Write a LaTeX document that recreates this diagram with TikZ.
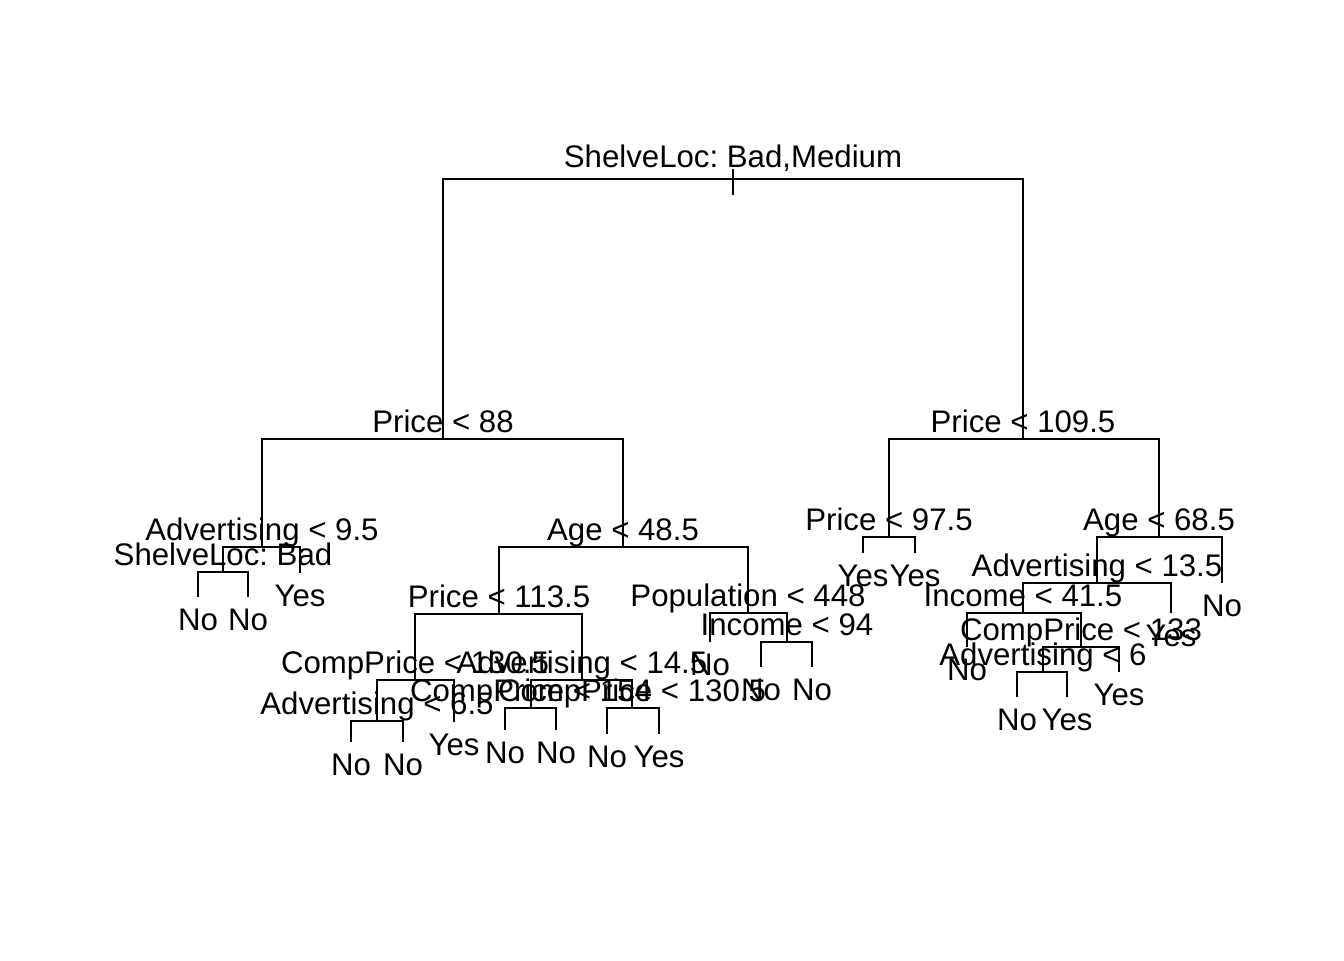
\documentclass[tikz,border=0pt]{standalone}
\usepackage{fontspec}
\setmainfont{Liberation Sans}
\frenchspacing
\begin{document}
\begin{tikzpicture}[x=0.375pt,y=-0.375pt,
  edge/.style={line width=0.75pt,line cap=butt},
  lbl/.style={anchor=base,inner sep=0pt,font=\fontsize{11.7}{14}\selectfont}]
\useasboundingbox[fill=white] (0,0) rectangle (1344,960);
% tree nodes (x, y of horizontal bar / leaf end)
\coordinate (root) at (733,179);
\coordinate (rtop) at (733,169);
\coordinate (rbot) at (733,195);
\coordinate (n2) at (443,439);
\coordinate (n3) at (1023,439);
\coordinate (n4) at (262,547);
\coordinate (n5) at (623,547);
\coordinate (n8) at (223,572);
\coordinate (l16) at (198,597);
\coordinate (l17) at (248,597);
\coordinate (l9) at (300,573);
\coordinate (n10) at (499,614);
\coordinate (n11) at (748,613);
\coordinate (n20) at (415,680);
\coordinate (n21) at (582,680);
\coordinate (n40) at (377,721);
\coordinate (l80) at (351,742);
\coordinate (l81) at (403,742);
\coordinate (l41) at (454,722);
\coordinate (n42) at (531,708);
\coordinate (l84) at (505,730);
\coordinate (l85) at (556,730);
\coordinate (n43) at (632,708);
\coordinate (l86) at (607,734);
\coordinate (l87) at (659,734);
\coordinate (l22) at (710,642);
\coordinate (n23) at (787,642);
\coordinate (l46) at (761,667);
\coordinate (l47) at (812,667);
\coordinate (n6) at (889,537);
\coordinate (l12) at (863,553);
\coordinate (l13) at (915,553);
\coordinate (n7) at (1159,537);
\coordinate (n14) at (1097,583);
\coordinate (l15) at (1222,583);
\coordinate (n28) at (1023,613);
\coordinate (l29) at (1171,613);
\coordinate (l56) at (967,647);
\coordinate (n57) at (1081,647);
\coordinate (n114) at (1043,672);
\coordinate (l228) at (1017,697);
\coordinate (l229) at (1067,697);
\coordinate (l115) at (1119,672);
% connectors
\draw[edge] (rtop) -- (rbot);
\draw[edge] (root) -| (n2);
\draw[edge] (root) -| (n3);
\draw[edge] (n2) -| (n4);
\draw[edge] (n2) -| (n5);
\draw[edge] (n4) -| (n8);
\draw[edge] (n4) -| (l9);
\draw[edge] (n8) -| (l16);
\draw[edge] (n8) -| (l17);
\draw[edge] (n5) -| (n10);
\draw[edge] (n5) -| (n11);
\draw[edge] (n10) -| (n20);
\draw[edge] (n10) -| (n21);
\draw[edge] (n20) -| (n40);
\draw[edge] (n20) -| (l41);
\draw[edge] (n40) -| (l80);
\draw[edge] (n40) -| (l81);
\draw[edge] (n21) -| (n42);
\draw[edge] (n21) -| (n43);
\draw[edge] (n42) -| (l84);
\draw[edge] (n42) -| (l85);
\draw[edge] (n43) -| (l86);
\draw[edge] (n43) -| (l87);
\draw[edge] (n11) -| (l22);
\draw[edge] (n11) -| (n23);
\draw[edge] (n23) -| (l46);
\draw[edge] (n23) -| (l47);
\draw[edge] (n3) -| (n6);
\draw[edge] (n3) -| (n7);
\draw[edge] (n6) -| (l12);
\draw[edge] (n6) -| (l13);
\draw[edge] (n7) -| (n14);
\draw[edge] (n7) -| (l15);
\draw[edge] (n14) -| (n28);
\draw[edge] (n14) -| (l29);
\draw[edge] (n28) -| (l56);
\draw[edge] (n28) -| (n57);
\draw[edge] (n57) -| (n114);
\draw[edge] (n57) -| (l115);
\draw[edge] (n114) -| (l228);
\draw[edge] (n114) -| (l229);
% split labels
\path (root) ++(0,-12) node[lbl] (troot) {ShelveLoc: Bad,Medium};
\path (n2) ++(0,-7) node[lbl] (t2) {Price < 88};
\path (n3) ++(0,-7) node[lbl] (t3) {Price < 109.5};
\path (n4) ++(0,-7) node[lbl] (t4) {Advertising < 9.5};
\path (n5) ++(0,-7) node[lbl] (t5) {Age < 48.5};
\path (n8) ++(0,-7) node[lbl] (t8) {ShelveLoc: Bad};
\path (n10) ++(0,-7) node[lbl] (t10) {Price < 113.5};
\path (n11) ++(0,-7) node[lbl] (t11) {Population < 448};
\path (n20) ++(0,-7) node[lbl] (t20) {CompPrice < 130.5};
\path (n21) ++(0,-7) node[lbl] (t21) {Advertising < 14.5};
\path (n40) ++(0,-7) node[lbl] (t40) {Advertising < 6.5};
\path (n42) ++(0,-7) node[lbl] (t42) {CompPrice < 154};
\path (n43) ++(0,-7) node[lbl] (t43) {CompPrice < 130.5};
\path (n23) ++(0,-7) node[lbl] (t23) {Income < 94};
\path (n6) ++(0,-7) node[lbl] (t6) {Price < 97.5};
\path (n7) ++(0,-7) node[lbl] (t7) {Age < 68.5};
\path (n14) ++(0,-7) node[lbl] (t14) {Advertising < 13.5};
\path (n28) ++(0,-7) node[lbl] (t28) {Income < 41.5};
\path (n57) ++(0,-7) node[lbl] (t57) {CompPrice < 133};
\path (n114) ++(0,-7) node[lbl] (t114) {Advertising < 6};
% leaf labels
\path (l16) ++(0,33) node[lbl] (tl16) {No};
\path (l17) ++(0,33) node[lbl] (tl17) {No};
\path (l9) ++(0,33) node[lbl] (tl9) {Yes};
\path (l80) ++(0,33) node[lbl] (tl80) {No};
\path (l81) ++(0,33) node[lbl] (tl81) {No};
\path (l41) ++(0,33) node[lbl] (tl41) {Yes};
\path (l84) ++(0,33) node[lbl] (tl84) {No};
\path (l85) ++(0,33) node[lbl] (tl85) {No};
\path (l86) ++(0,33) node[lbl] (tl86) {No};
\path (l87) ++(0,33) node[lbl] (tl87) {Yes};
\path (l22) ++(0,33) node[lbl] (tl22) {No};
\path (l46) ++(0,33) node[lbl] (tl46) {No};
\path (l47) ++(0,33) node[lbl] (tl47) {No};
\path (l12) ++(0,33) node[lbl] (tl12) {Yes};
\path (l13) ++(0,33) node[lbl] (tl13) {Yes};
\path (l15) ++(0,33) node[lbl] (tl15) {No};
\path (l29) ++(0,33) node[lbl] (tl29) {Yes};
\path (l56) ++(0,33) node[lbl] (tl56) {No};
\path (l228) ++(0,33) node[lbl] (tl228) {No};
\path (l229) ++(0,33) node[lbl] (tl229) {Yes};
\path (l115) ++(0,33) node[lbl] (tl115) {Yes};
\end{tikzpicture}
\end{document}
